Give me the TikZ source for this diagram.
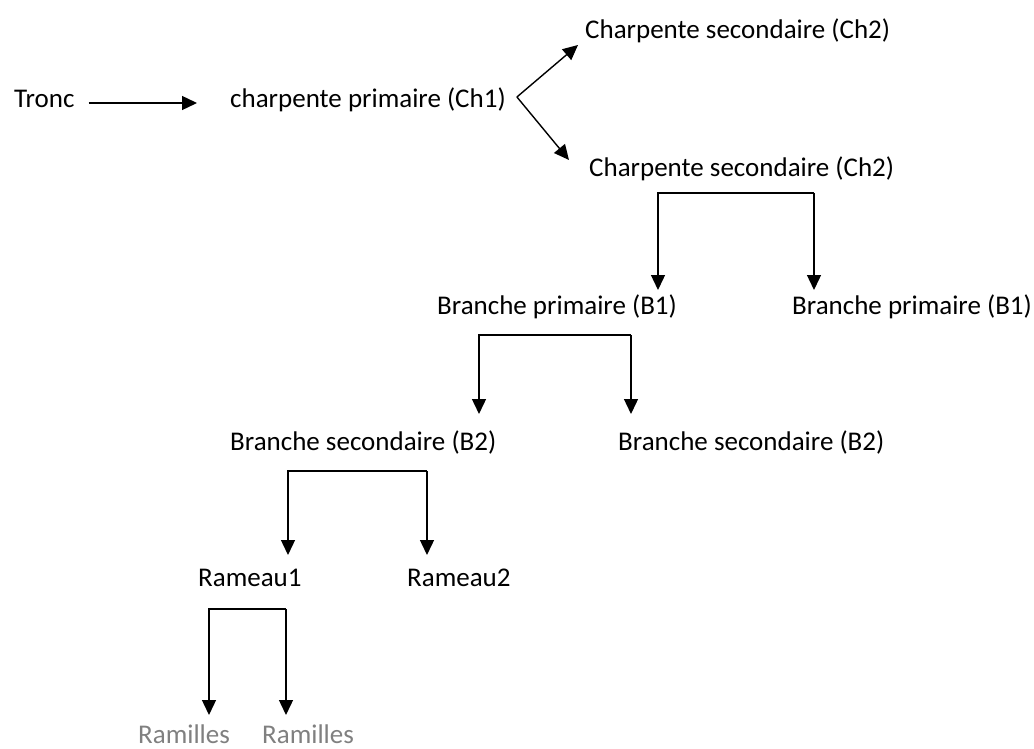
\documentclass[tikz,border=0pt]{standalone}
\usepackage{fontspec}
\setmainfont{Carlito}
\usepackage{tikz}
\usetikzlibrary{arrows.meta,calc}
\definecolor{ramgray}{RGB}{128,128,128}

\begin{document}
\begin{tikzpicture}[x=1pt,y=-1pt,
  lbl/.style={anchor=base west,inner sep=0pt,font=\fontsize{27}{32}\selectfont},
  arr/.style={line width=1.4pt,-{Triangle[length=15pt,width=14pt]}},
  bar/.style={line width=1.4pt}]
\useasboundingbox (0,0) rectangle (1034,749);

% labels
\node[lbl] (tronc) at (14,108) {Tronc};
\node[lbl] (ch1) at (230,108) {charpente primaire (Ch1)};
\node[lbl] (ch2a) at (585,39) {Charpente secondaire (Ch2)};
\node[lbl] (ch2b) at (589,176) {Charpente secondaire (Ch2)};
\node[lbl] (b1a) at (437,314) {Branche primaire (B1)};
\node[lbl] (b1b) at (792,314) {Branche primaire (B1)};
\node[lbl] (b2a) at (230,450) {Branche secondaire (B2)};
\node[lbl] (b2b) at (618,450) {Branche secondaire (B2)};
\node[lbl] (ram1) at (198,586) {Rameau1};
\node[lbl] (ram2) at (407,586) {Rameau2};
\node[lbl,text=ramgray] (rml1) at (138,743) {Ramilles};
\node[lbl,text=ramgray] (rml2) at (262,743) {Ramilles};

% tronc -> ch1
\draw[arr] ($(tronc.base east)+(14,-5)$) -- ($(ch1.base west)+(-33,-5)$);

% fork
\coordinate (fork) at ($(ch1.base east)+(11,-11)$);
\draw[arr] (fork) -- ($(ch2a.base west)+(-7,6)$);
\draw[arr] (fork) -- ($(ch2b.base west)+(-20,-16)$);

% brackets
\coordinate (k1) at (658,193);
\coordinate (k2) at (814,193);
\draw[arr,shorten >=24pt] (k2) -- (k1) -- (k1 |- b1a.base);
\draw[arr,shorten >=24pt] (k2) -- (k2 |- b1b.base);

\coordinate (k3) at (479,335);
\coordinate (k4) at (631,335);
\draw[arr,shorten >=36pt] (k4) -- (k3) -- (k3 |- b2a.base);
\draw[arr,shorten >=36pt] (k4) -- (k4 |- b2b.base);

\coordinate (k5) at (288,471);
\coordinate (k6) at (427,471);
\draw[arr,shorten >=31pt] (k6) -- (k5) -- (k5 |- ram1.base);
\draw[arr,shorten >=31pt] (k6) -- (k6 |- ram2.base);

\coordinate (k7) at (209,609);
\coordinate (k8) at (286,609);
\draw[arr,shorten >=28pt] (k8) -- (k7) -- (k7 |- rml1.base);
\draw[arr,shorten >=28pt] (k8) -- (k8 |- rml2.base);
\end{tikzpicture}
\end{document}
